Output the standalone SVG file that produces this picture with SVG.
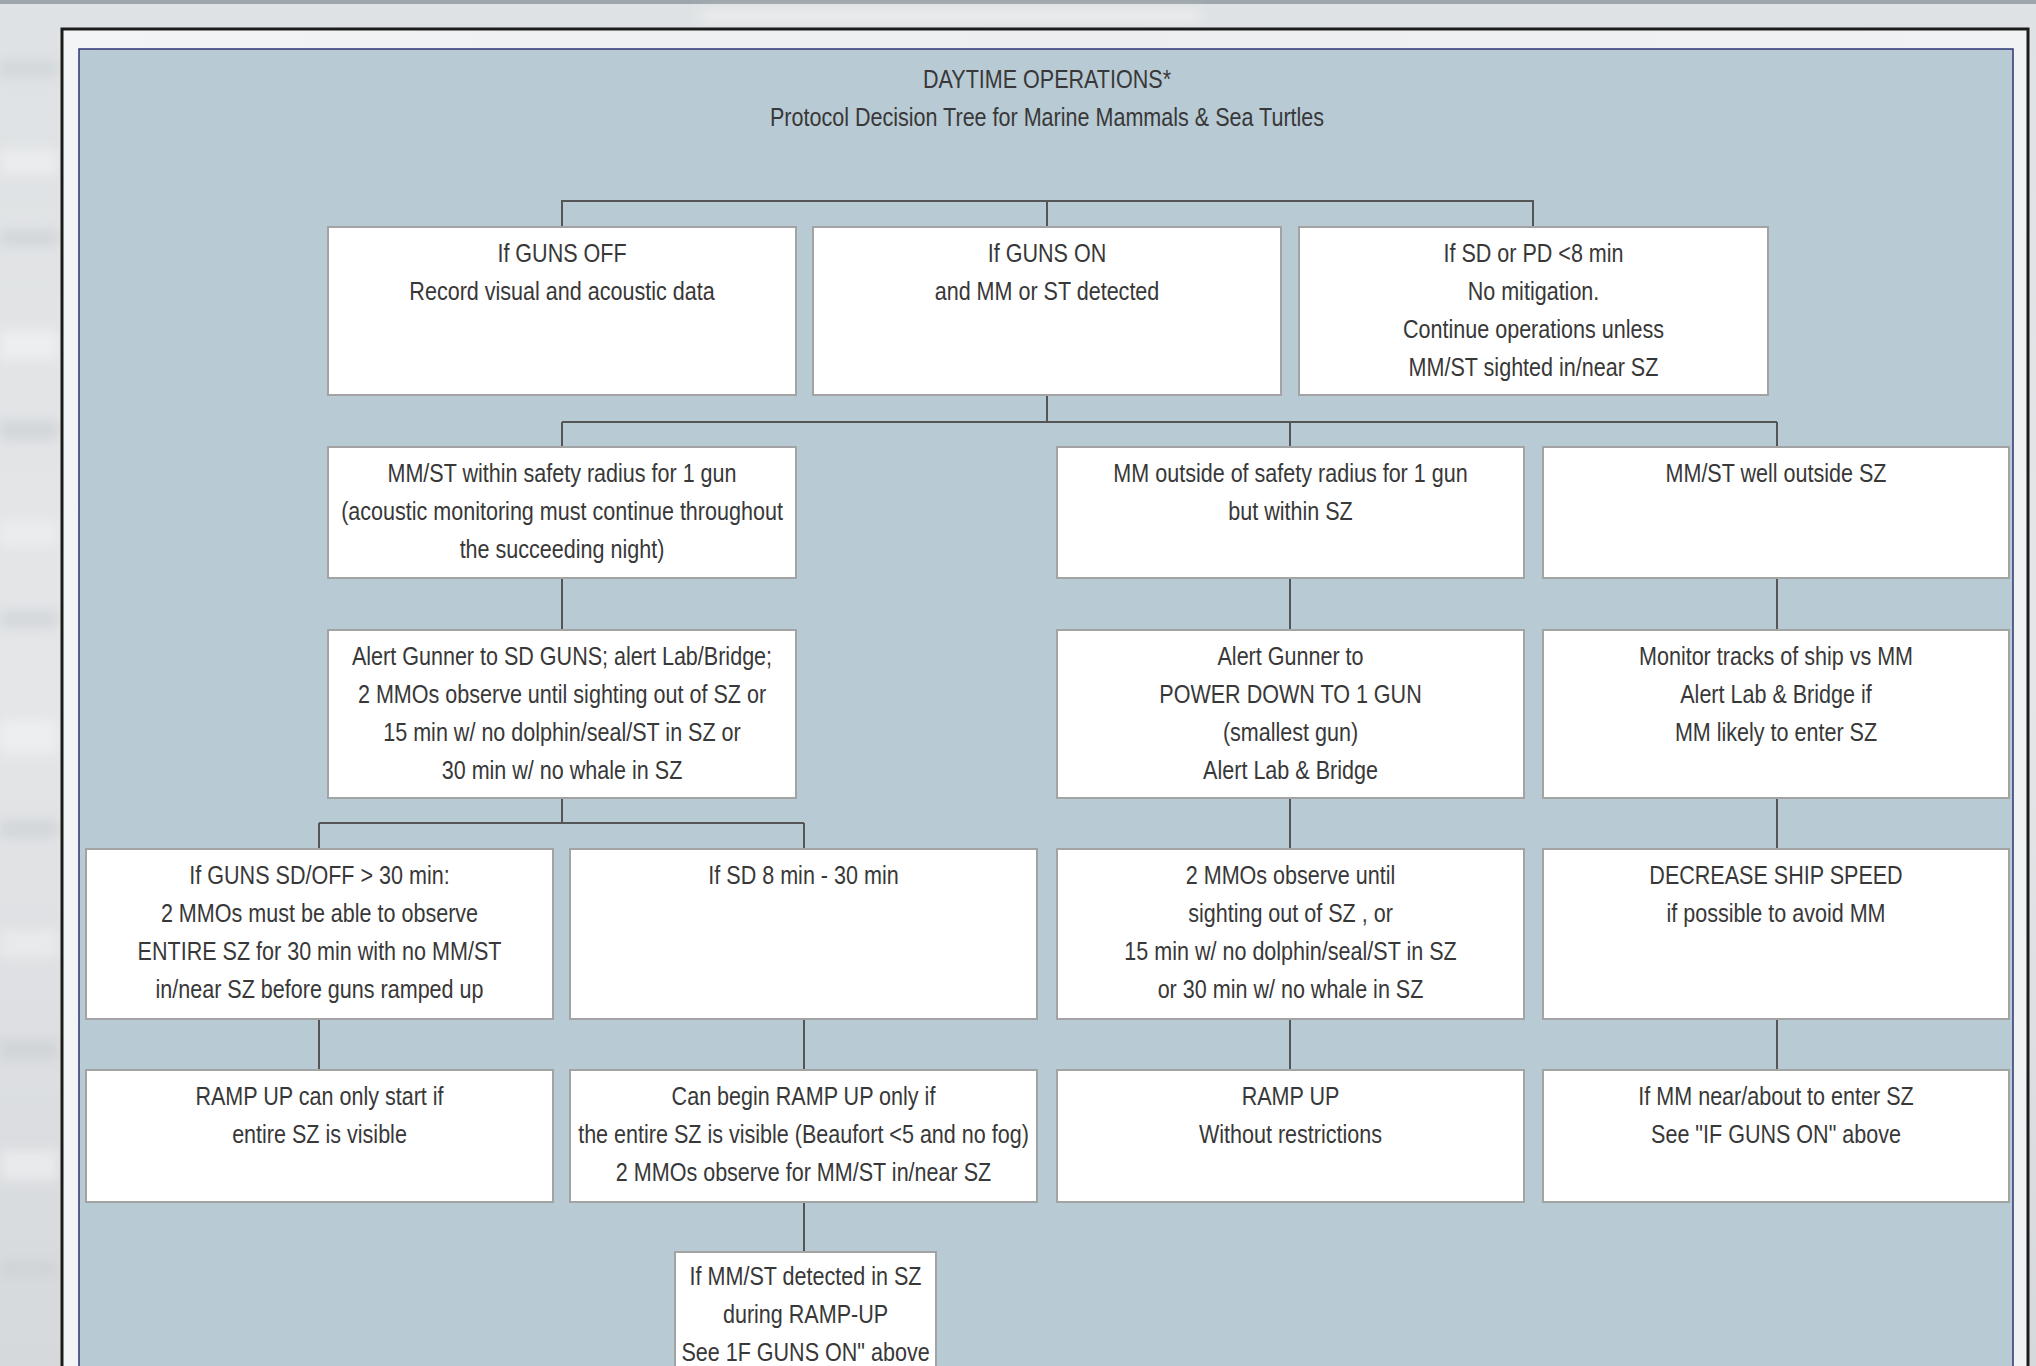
<svg xmlns="http://www.w3.org/2000/svg" width="2036" height="1366" viewBox="0 0 2036 1366">
<defs>
<linearGradient id="bg" x1="0" y1="0" x2="0" y2="1">
<stop offset="0" stop-color="#dfe2e4"/>
<stop offset="0.5" stop-color="#e4e6e8"/>
<stop offset="1" stop-color="#d6d9dc"/>
</linearGradient>
<linearGradient id="mat" x1="0" y1="0" x2="1" y2="0">
<stop offset="0" stop-color="#f3f4f5"/>
<stop offset="0.5" stop-color="#eceeef"/>
<stop offset="1" stop-color="#f1f2f3"/>
</linearGradient>
<filter id="blur" x="-20%" y="-50%" width="140%" height="200%"><feGaussianBlur stdDeviation="6"/></filter>
<style>
.box{fill:#ffffff;stroke:#a3a3a3;stroke-width:2}
.t{font-family:"Liberation Sans",Arial,sans-serif;font-size:25.5px;fill:#383838;text-anchor:middle}
.c{fill:none;stroke:#555555;stroke-width:2}
</style>
</defs>
<rect x="0" y="0" width="2036" height="1366" fill="url(#bg)"/>
<rect x="0" y="0" width="2036" height="4" fill="#9ea6ab"/>
<g filter="url(#blur)" opacity="0.6">
<rect x="0" y="60" width="58" height="18" fill="#cbd0d4"/>
<rect x="0" y="150" width="58" height="24" fill="#f2f3f4"/>
<rect x="0" y="230" width="58" height="16" fill="#c9ced2"/>
<rect x="0" y="330" width="58" height="30" fill="#f4f5f6"/>
<rect x="0" y="420" width="58" height="20" fill="#c8cdd1"/>
<rect x="0" y="520" width="58" height="26" fill="#f0f1f2"/>
<rect x="0" y="610" width="58" height="18" fill="#cacfd3"/>
<rect x="0" y="720" width="58" height="34" fill="#f3f4f5"/>
<rect x="0" y="820" width="58" height="18" fill="#c9ced2"/>
<rect x="0" y="930" width="58" height="28" fill="#eff0f1"/>
<rect x="0" y="1040" width="58" height="20" fill="#c8cdd1"/>
<rect x="0" y="1150" width="58" height="30" fill="#f2f3f4"/>
<rect x="0" y="1260" width="58" height="18" fill="#cbd0d4"/>
<rect x="700" y="10" width="500" height="12" fill="#f3f4f5"/>
</g>
<rect x="62" y="29" width="1966" height="1400" fill="url(#mat)" stroke="#1c1c1c" stroke-width="3"/>
<rect x="79" y="49" width="1934" height="1400" fill="#b8cad4" stroke="#2e3672" stroke-width="1.5"/>

<g id="title">
<text class="t" transform="translate(1047 0) scale(0.845 1)"><tspan x="0" y="88">DAYTIME OPERATIONS*</tspan><tspan x="0" y="126">Protocol Decision Tree for Marine Mammals &amp; Sea Turtles</tspan></text>
</g>

<g id="connectors">
<path class="c" d="M562 227 V201 H1533 V227 M1047 201 V227"/>
<path class="c" d="M1047 395 V422 M562 422 H1777 M562 422 V447 M1290 422 V447 M1777 422 V447"/>
<path class="c" d="M562 578 V630 M1290 578 V630 M1777 578 V630"/>
<path class="c" d="M562 798 V823 M319 823 H804 M319 823 V849 M804 823 V849 M1290 798 V849 M1777 798 V849"/>
<path class="c" d="M319 1019 V1070 M804 1019 V1070 M1290 1019 V1070 M1777 1019 V1070"/>
<path class="c" d="M804 1202 V1252"/>
</g>

<g id="guns-off">
<rect class="box" x="328" y="227" width="468" height="168"/>
<text class="t" transform="translate(562 0) scale(0.845 1)"><tspan x="0" y="262">If GUNS OFF</tspan><tspan x="0" y="300">Record visual and acoustic data</tspan></text>
</g>
<g id="guns-on">
<rect class="box" x="813" y="227" width="468" height="168"/>
<text class="t" transform="translate(1047 0) scale(0.845 1)"><tspan x="0" y="262">If GUNS ON</tspan><tspan x="0" y="300">and MM or ST detected</tspan></text>
</g>
<g id="sd-pd">
<rect class="box" x="1299" y="227" width="469" height="168"/>
<text class="t" transform="translate(1533.5 0) scale(0.845 1)"><tspan x="0" y="262">If SD or PD &lt;8 min</tspan><tspan x="0" y="300">No mitigation.</tspan><tspan x="0" y="338">Continue operations unless</tspan><tspan x="0" y="376">MM/ST sighted in/near SZ</tspan></text>
</g>

<g id="within-radius">
<rect class="box" x="328" y="447" width="468" height="131"/>
<text class="t" transform="translate(562 0) scale(0.845 1)"><tspan x="0" y="482">MM/ST within safety radius for 1 gun</tspan><tspan x="0" y="520">(acoustic monitoring must continue throughout</tspan><tspan x="0" y="558">the succeeding night)</tspan></text>
</g>
<g id="outside-radius">
<rect class="box" x="1057" y="447" width="467" height="131"/>
<text class="t" transform="translate(1290.5 0) scale(0.845 1)"><tspan x="0" y="482">MM outside of safety radius for 1 gun</tspan><tspan x="0" y="520">but within SZ</tspan></text>
</g>
<g id="well-outside">
<rect class="box" x="1543" y="447" width="466" height="131"/>
<text class="t" transform="translate(1776 0) scale(0.845 1)"><tspan x="0" y="482">MM/ST well outside SZ</tspan></text>
</g>

<g id="alert-sd">
<rect class="box" x="328" y="630" width="468" height="168"/>
<text class="t" transform="translate(562 0) scale(0.845 1)"><tspan x="0" y="665">Alert Gunner to SD GUNS; alert Lab/Bridge;</tspan><tspan x="0" y="703">2 MMOs observe until sighting out of SZ or</tspan><tspan x="0" y="741">15 min w/ no dolphin/seal/ST in SZ or</tspan><tspan x="0" y="779">30 min w/ no whale in SZ</tspan></text>
</g>
<g id="alert-pd">
<rect class="box" x="1057" y="630" width="467" height="168"/>
<text class="t" transform="translate(1290.5 0) scale(0.845 1)"><tspan x="0" y="665">Alert Gunner to</tspan><tspan x="0" y="703">POWER DOWN TO 1 GUN</tspan><tspan x="0" y="741">(smallest gun)</tspan><tspan x="0" y="779">Alert Lab &amp; Bridge</tspan></text>
</g>
<g id="monitor">
<rect class="box" x="1543" y="630" width="466" height="168"/>
<text class="t" transform="translate(1776 0) scale(0.845 1)"><tspan x="0" y="665">Monitor tracks of ship vs MM</tspan><tspan x="0" y="703">Alert Lab &amp; Bridge if</tspan><tspan x="0" y="741">MM likely to enter SZ</tspan></text>
</g>

<g id="sd-over-30">
<rect class="box" x="86" y="849" width="467" height="170"/>
<text class="t" transform="translate(319.5 0) scale(0.845 1)"><tspan x="0" y="884">If GUNS SD/OFF &gt; 30 min:</tspan><tspan x="0" y="922">2 MMOs must be able to observe</tspan><tspan x="0" y="960">ENTIRE SZ for 30 min with no MM/ST</tspan><tspan x="0" y="998">in/near SZ before guns ramped up</tspan></text>
</g>
<g id="sd-8-30">
<rect class="box" x="570" y="849" width="467" height="170"/>
<text class="t" transform="translate(803.5 0) scale(0.845 1)"><tspan x="0" y="884">If SD 8 min - 30 min</tspan></text>
</g>
<g id="observe-until">
<rect class="box" x="1057" y="849" width="467" height="170"/>
<text class="t" transform="translate(1290.5 0) scale(0.845 1)"><tspan x="0" y="884">2 MMOs observe until</tspan><tspan x="0" y="922">sighting out of SZ , or</tspan><tspan x="0" y="960">15 min w/ no dolphin/seal/ST in SZ</tspan><tspan x="0" y="998">or 30 min w/ no whale in SZ</tspan></text>
</g>
<g id="decrease-speed">
<rect class="box" x="1543" y="849" width="466" height="170"/>
<text class="t" transform="translate(1776 0) scale(0.845 1)"><tspan x="0" y="884">DECREASE SHIP SPEED</tspan><tspan x="0" y="922">if possible to avoid MM</tspan></text>
</g>

<g id="ramp-visible">
<rect class="box" x="86" y="1070" width="467" height="132"/>
<text class="t" transform="translate(319.5 0) scale(0.845 1)"><tspan x="0" y="1105">RAMP UP can only start if</tspan><tspan x="0" y="1143">entire SZ is visible</tspan></text>
</g>
<g id="ramp-begin">
<rect class="box" x="570" y="1070" width="467" height="132"/>
<text class="t" transform="translate(803.5 0) scale(0.845 1)"><tspan x="0" y="1105">Can begin RAMP UP only if</tspan><tspan x="0" y="1143">the entire SZ is visible (Beaufort &lt;5 and no fog)</tspan><tspan x="0" y="1181">2 MMOs observe for MM/ST in/near SZ</tspan></text>
</g>
<g id="ramp-free">
<rect class="box" x="1057" y="1070" width="467" height="132"/>
<text class="t" transform="translate(1290.5 0) scale(0.845 1)"><tspan x="0" y="1105">RAMP UP</tspan><tspan x="0" y="1143">Without restrictions</tspan></text>
</g>
<g id="mm-near">
<rect class="box" x="1543" y="1070" width="466" height="132"/>
<text class="t" transform="translate(1776 0) scale(0.845 1)"><tspan x="0" y="1105">If MM near/about to enter SZ</tspan><tspan x="0" y="1143">See "IF GUNS ON" above</tspan></text>
</g>

<g id="detected-ramp">
<rect class="box" x="675" y="1252" width="261" height="160"/>
<text class="t" transform="translate(805.5 0) scale(0.845 1)"><tspan x="0" y="1285">If MM/ST detected in SZ</tspan><tspan x="0" y="1323">during RAMP-UP</tspan><tspan x="0" y="1361">See 1F GUNS ON" above</tspan></text>
</g>
</svg>
